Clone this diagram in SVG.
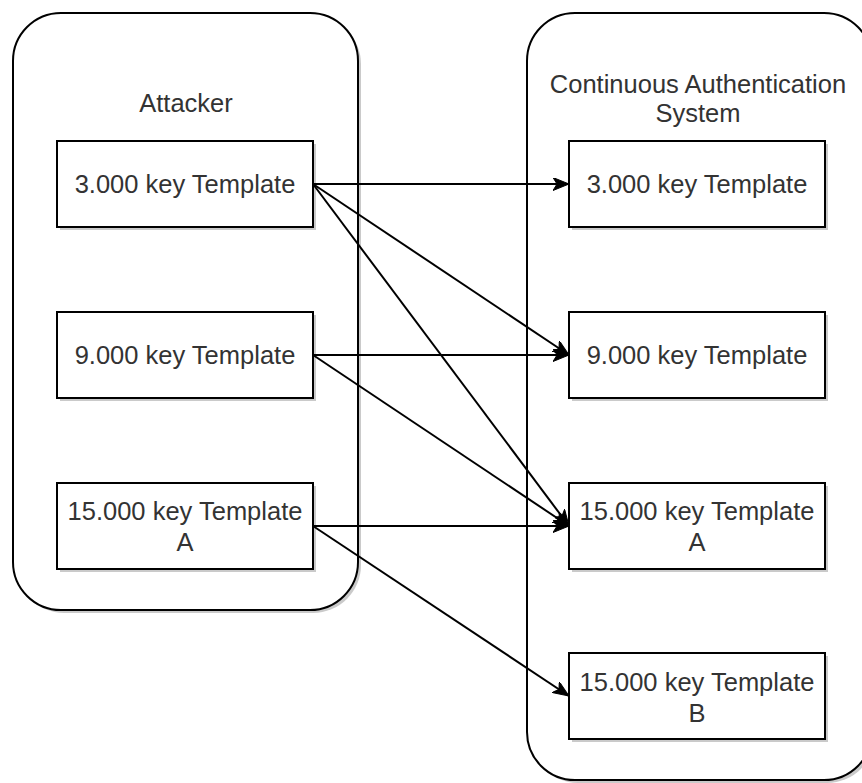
<svg xmlns="http://www.w3.org/2000/svg" width="862" height="783" viewBox="0 0 862 783">
<style>
.box{fill:#fff;stroke:#000;stroke-width:2}
.shadow{fill:#bdbdbd;opacity:0.8}
.lbl{font-family:"Liberation Sans",Arial,sans-serif;font-size:25.5px;fill:#333;text-anchor:middle;dominant-baseline:central}
.edge{fill:none;stroke:#000;stroke-width:2;marker-end:url(#arr)}
</style>
<defs>
<marker id="arr" markerUnits="userSpaceOnUse" markerWidth="17" markerHeight="13" viewBox="0 0 17 13" refX="16" refY="6.5" orient="auto">
<path d="M0,0 L16,6.5 L0,13 L4,6.5 Z" fill="#000" stroke="#000" stroke-width="1"/>
</marker>
</defs>
<g id="attacker">
<rect class="shadow" x="16" y="16" width="345" height="597" rx="48"/>
<rect class="box" x="13" y="13" width="345" height="597" rx="48"/>
<text class="lbl" x="186" y="103">Attacker</text>
</g>
<g id="cas">
<rect class="shadow" x="530" y="16" width="345" height="767" rx="48"/>
<rect class="box" x="527" y="13" width="345" height="767" rx="48"/>
<text class="lbl" x="698" y="84">Continuous Authentication</text>
<text class="lbl" x="698" y="113">System</text>
</g>
<g id="a1"><rect class="shadow" x="60" y="144" width="256" height="86"/><rect class="box" x="57" y="141" width="256" height="86"/><text class="lbl" x="185" y="184">3.000 key Template</text></g>
<g id="a2"><rect class="shadow" x="60" y="315" width="256" height="86"/><rect class="box" x="57" y="312" width="256" height="86"/><text class="lbl" x="185" y="355">9.000 key Template</text></g>
<g id="a3"><rect class="shadow" x="60" y="486" width="256" height="86"/><rect class="box" x="57" y="483" width="256" height="86"/><text class="lbl" x="185" y="511">15.000 key Template</text><text class="lbl" x="185" y="542">A</text></g>
<g id="c1"><rect class="shadow" x="572" y="144" width="256" height="86"/><rect class="box" x="569" y="141" width="256" height="86"/><text class="lbl" x="697" y="184">3.000 key Template</text></g>
<g id="c2"><rect class="shadow" x="572" y="315" width="256" height="86"/><rect class="box" x="569" y="312" width="256" height="86"/><text class="lbl" x="697" y="355">9.000 key Template</text></g>
<g id="c3"><rect class="shadow" x="572" y="486" width="256" height="86"/><rect class="box" x="569" y="483" width="256" height="86"/><text class="lbl" x="697" y="511">15.000 key Template</text><text class="lbl" x="697" y="542">A</text></g>
<g id="c4"><rect class="shadow" x="572" y="656" width="256" height="86"/><rect class="box" x="569" y="653" width="256" height="86"/><text class="lbl" x="697" y="682">15.000 key Template</text><text class="lbl" x="697" y="713">B</text></g>
<g id="connectors">
<path class="edge" d="M313,184 L569,184"/>
<path class="edge" d="M313,184 L569,355"/>
<path class="edge" d="M313,184 L569,526"/>
<path class="edge" d="M313,355 L569,355"/>
<path class="edge" d="M313,355 L569,526"/>
<path class="edge" d="M313,526 L569,526"/>
<path class="edge" d="M313,526 L569,696"/>
</g>
</svg>
